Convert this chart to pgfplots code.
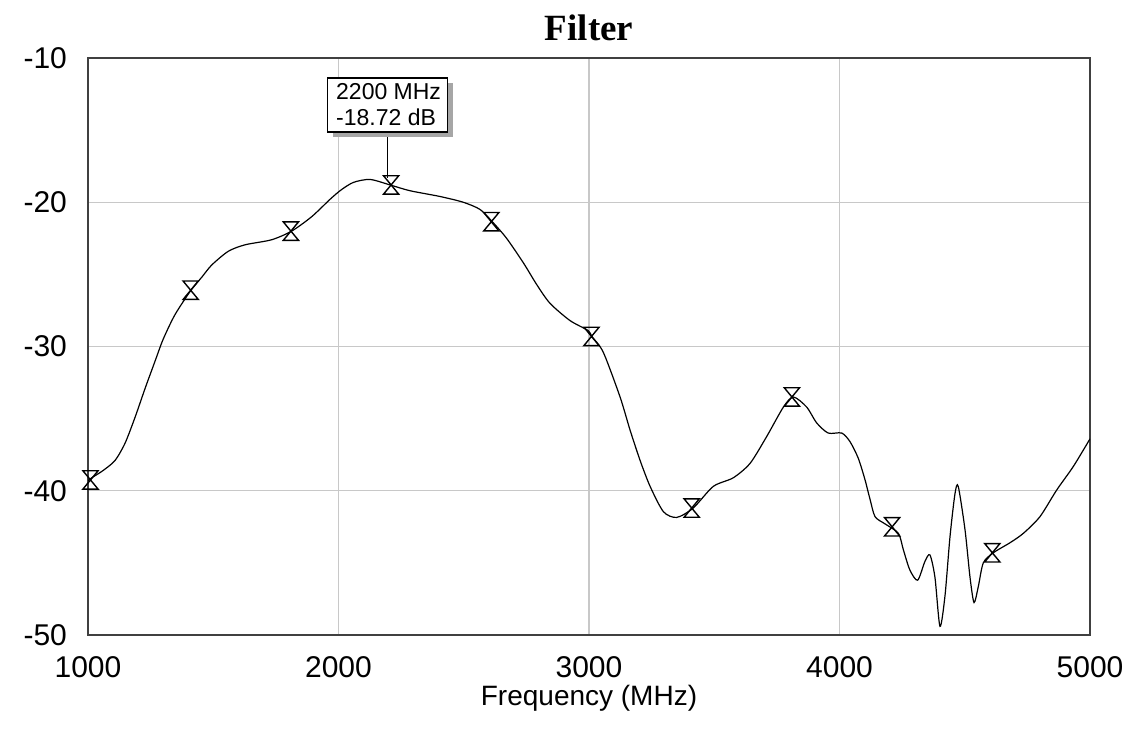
\documentclass[border=0pt]{standalone}
\usepackage{fontspec}
\setmainfont{Liberation Sans}
\newfontfamily\titlefont{Liberation Serif}
\usepackage{pgfplots}
\pgfplotsset{compat=1.18}
\definecolor{gridgray}{HTML}{C8C8C8}
\definecolor{framegray}{HTML}{404040}

% hourglass marker, like the ones in the source chart
\pgfdeclareplotmark{hourglass}{%
  \pgfpathmoveto{\pgfqpoint{-3.8pt}{4.6pt}}%
  \pgfpathlineto{\pgfqpoint{3.8pt}{4.6pt}}%
  \pgfpathlineto{\pgfqpoint{-3.8pt}{-4.6pt}}%
  \pgfpathlineto{\pgfqpoint{3.8pt}{-4.6pt}}%
  \pgfpathclose
  \pgfusepathqstroke}

\begin{document}
\begin{tikzpicture}
\begin{axis}[
  name=ax,
  scale only axis,
  width=501pt, height=288.5pt,
  xmin=1000, xmax=5000, ymin=-50, ymax=-10,
  xtick={1000,2000,3000,4000,5000},
  ytick={-50,-40,-30,-20,-10},
  major tick length=0pt,
  grid=major,
  grid style={gridgray, line width=0.6pt},
  axis line style={framegray, line width=0.8pt},
  /pgf/number format/assume math mode=true,
  /pgf/number format/1000 sep={},
  tick label style={font=\fontsize{15}{17}\selectfont},
  xticklabel style={yshift=-7pt},
  yticklabel style={xshift=-7pt},
  xlabel={Frequency (MHz)},
  xlabel style={font=\fontsize{14}{16}\selectfont, yshift=3pt},
  title={\titlefont\bfseries Filter},
  title style={font=\fontsize{18.5}{20}\selectfont, yshift=-1pt},
  clip=true,
]
\addplot[black, line width=0.6pt, smooth, tension=0.45] coordinates {
(1000,-39.3) (1015,-39.1) (1060,-38.6) (1108,-37.9) (1148,-36.7) (1188,-34.9)
(1228,-32.9) (1268,-31.0) (1300,-29.5) (1347,-27.8) (1411,-26.1) (1454,-25.2)
(1494,-24.35) (1560,-23.4) (1627,-22.95) (1733,-22.6) (1813,-22.0) (1893,-21.0)
(1966,-19.8) (2010,-19.15) (2060,-18.62) (2126,-18.42) (2206,-18.8) (2285,-19.2)
(2405,-19.6) (2498,-20.0) (2565,-20.5) (2614,-21.35) (2671,-22.5) (2738,-24.2)
(2791,-25.7) (2844,-27.0) (2924,-28.2) (2997,-28.9) (3011,-29.3) (3057,-30.4)
(3124,-33.5) (3164,-35.8) (3204,-37.9) (3244,-39.7) (3297,-41.45) (3350,-41.85)
(3416,-41.2) (3496,-39.7) (3576,-39.1) (3643,-38.1) (3709,-36.25) (3776,-34.2)
(3816,-33.5) (3869,-34.2) (3909,-35.3) (3955,-36.0) (4009,-36.0) (4042,-36.6)
(4075,-37.75) (4102,-39.25) (4122,-40.6) (4142,-41.8) (4182,-42.3) (4235,-42.95)
(4255,-44.1) (4281,-45.5) (4312,-46.2) (4341,-44.9) (4361,-44.45) (4381,-46.0)
(4401,-49.4) (4421,-47.3) (4441,-43.2) (4461,-40.2) (4474,-39.7) (4501,-42.7)
(4521,-46.0) (4537,-47.75) (4554,-46.65) (4574,-45.0) (4614,-44.3) (4681,-43.6)
(4734,-42.95) (4800,-41.8) (4867,-39.95) (4934,-38.3) (5000,-36.4)
};
% sweep markers
\addplot[black, line width=0.7pt, only marks, mark=hourglass] coordinates {
(1010,-39.25) (1410,-26.1) (1810,-22.0) (2210,-18.8) (2610,-21.35)
(3010,-29.3) (3410,-41.2) (3810,-33.5) (4210,-42.5) (4610,-44.3)
};
% marker readout
\draw[black, line width=0.6pt] (axis cs:2196,-15.1) -- (axis cs:2196,-18.3);
\fill[gray!70] (axis cs:2196,-13.25) ++(-27.5pt,-16pt) rectangle ++(60pt,27pt);
\node[draw=black, fill=white, line width=0.8pt, inner sep=0pt,
      minimum width=60pt, minimum height=27pt, align=left,
      font=\fontsize{11.5}{13}\selectfont]
  at (axis cs:2196,-13.25) {\hspace*{1pt}2200 MHz\\\hspace*{1pt}-18.72 dB};
\end{axis}
\pgfresetboundingbox
\useasboundingbox (ax.south west) ++(-44pt,-51pt) rectangle ([shift={(18pt,29pt)}]ax.north east);
\end{tikzpicture}
\end{document}
